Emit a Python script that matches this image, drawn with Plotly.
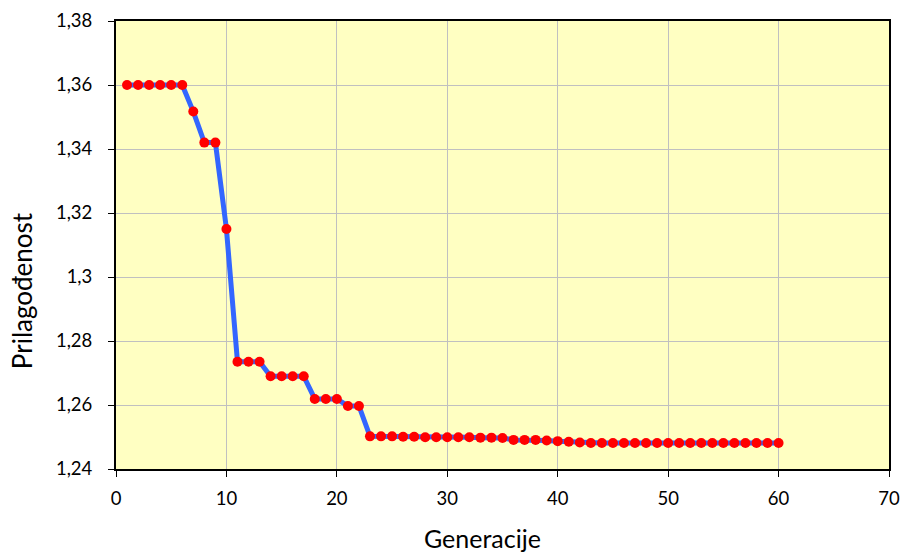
import plotly.graph_objects as go

generations = list(range(1, 61))
fitness = [
    1.3600, 1.3600, 1.3600, 1.3600, 1.3600, 1.3600, 1.3517, 1.3420, 1.3420, 1.3150,
    1.2735, 1.2735, 1.2735, 1.2690, 1.2690, 1.2690, 1.2690, 1.2619, 1.2619, 1.2619,
    1.2597, 1.2597, 1.2502, 1.2502, 1.2502, 1.2501, 1.2501, 1.2499, 1.2499, 1.2499,
    1.2499, 1.2499, 1.2498, 1.2498, 1.2497, 1.2491, 1.2491, 1.2491, 1.2489, 1.2487,
    1.2485, 1.2483, 1.2481, 1.2481, 1.2481, 1.2481, 1.2481, 1.2481, 1.2481, 1.2481,
    1.2481, 1.2481, 1.2481, 1.2481, 1.2481, 1.2481, 1.2481, 1.2481, 1.2481, 1.2481,
]

x_ticks = [0, 10, 20, 30, 40, 50, 60, 70]
y_ticks = [1.24, 1.26, 1.28, 1.30, 1.32, 1.34, 1.36, 1.38]
y_tick_labels = ["1,24", "1,26", "1,28", "1,3", "1,32", "1,34", "1,36", "1,38"]

x_title = "Generacije"
y_title = "Prilagođenost"

fig = go.Figure()
fig.add_trace(go.Scatter(
    x=generations, y=fitness, mode="lines+markers",
    line=dict(color="#3366FF", width=5),
    marker=dict(color="#FF0000", size=10),
    showlegend=False,
))

font_family = "Lato, Open Sans, sans-serif"
fig.update_layout(
    width=902, height=553,
    margin=dict(l=116, r=13, t=21, b=84, autoexpand=False),
    paper_bgcolor="white",
    plot_bgcolor="#FFFFC2",
    separators=",.",
    font=dict(family=font_family, color="black", size=18.5),
    xaxis=dict(
        range=[0, 70], tickvals=x_ticks, automargin=False,
        showgrid=True, gridcolor="#C0C0C0", gridwidth=1,
        showline=True, linecolor="black", linewidth=2, mirror=True,
        ticks="outside", ticklen=6, tickcolor="black",
        tickfont=dict(size=18.5), ticklabelstandoff=6,
        zeroline=False,
    ),
    yaxis=dict(
        range=[1.24, 1.38], tickvals=y_ticks, ticktext=y_tick_labels, automargin=False,
        showgrid=True, gridcolor="#C0C0C0", gridwidth=1,
        showline=True, linecolor="black", linewidth=2, mirror=True,
        ticks="outside", ticklen=6, tickcolor="black",
        tickfont=dict(size=18.5), ticklabelstandoff=12,
        zeroline=False,
    ),
    annotations=[
        dict(text=x_title, xref="paper", yref="paper", x=0.4735, y=-0.154,
             xanchor="center", yanchor="middle", showarrow=False,
             font=dict(size=25)),
        dict(text=y_title, xref="paper", yref="paper", x=-0.1216, y=0.397,
             xanchor="center", yanchor="middle", showarrow=False, textangle=-90,
             font=dict(size=26)),
    ],
)

fig.write_html("out.html", config={"displayModeBar": False},
               post_script="document.body.style.margin='0';")
